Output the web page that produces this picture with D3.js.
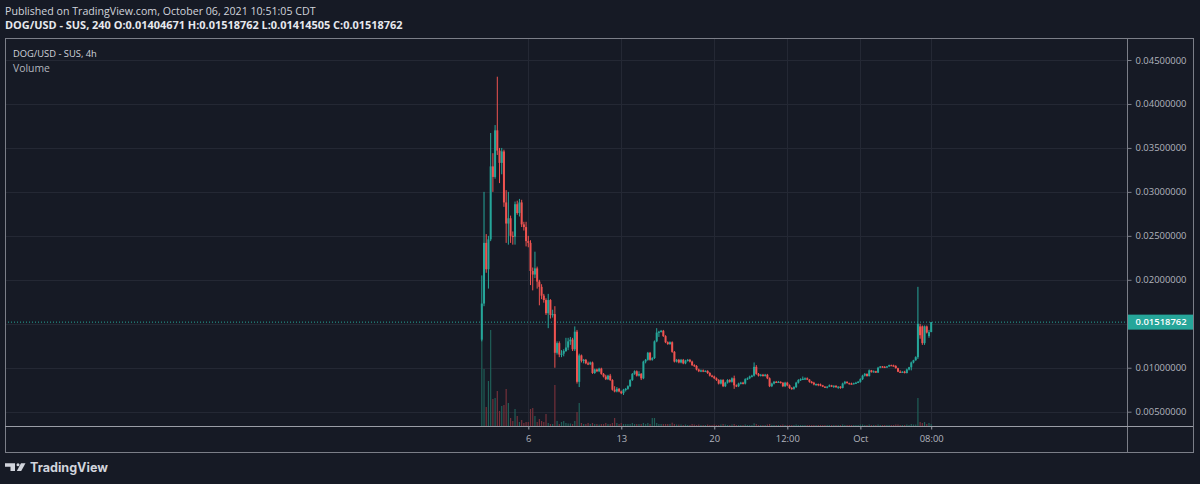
<!DOCTYPE html>
<html><head><meta charset="utf-8">
<script src="https://cdn.jsdelivr.net/npm/d3@7"></script>
<style>
html,body{margin:0;padding:0;background:#161a25;}
svg{display:block;}
</style></head><body>
<svg id="c" width="1200" height="484"></svg>
<script>
// ---------------- DATA (4h candles, DOG/USD - SUS) ----------------
const firstBarTime = "2021-09-02T12:00:00Z";
const barHours = 4;
const opens = [
0.0132,0.0173,0.0242,0.0212,0.0246,0.0329,0.0317,0.0370,0.0347,0.0333,
0.0346,0.0288,0.0264,0.0270,0.0250,0.0249,0.0286,0.0276,0.0288,0.0263,
0.0260,0.0244,0.0242,0.0210,0.0206,0.0213,0.0198,0.0192,0.0182,0.0177,
0.0162,0.0177,0.0160,0.0161,0.0117,0.0128,0.0115,0.0116,0.0119,0.0123,
0.0130,0.0132,0.0121,0.0141,0.0084,0.0114,0.0108,0.0109,0.0105,0.0104,
0.0106,0.0094,0.0098,0.0096,0.0099,0.0093,0.0090,0.0087,0.0091,0.0086,
0.0075,0.0073,0.0076,0.0073,0.0071,0.0075,0.0076,0.0079,0.0086,0.0093,
0.0096,0.0091,0.0093,0.0088,0.0107,0.0109,0.0117,0.0109,0.0111,0.0130,
0.0140,0.0141,0.0142,0.0136,0.0129,0.0127,0.0129,0.0118,0.0107,0.0109,
0.0106,0.0109,0.0105,0.0108,0.0109,0.0107,0.0103,0.0102,0.0098,0.0096,
0.0097,0.0096,0.00965,0.0094,0.0091,0.0090,0.0088,0.0086,0.0082,0.0086,
0.0079,0.0083,0.0086,0.0084,0.0088,0.0080,0.0079,0.0082,0.0083,0.0082,
0.0087,0.0088,0.0090,0.0091,0.0101,0.0093,0.0091,0.0092,0.00905,0.0092,
0.0088,0.0079,0.0082,0.0084,0.00835,0.0084,0.0083,0.0079,0.0083,0.0080,
0.0077,0.0076,0.0078,0.0083,0.0086,0.0087,0.00875,0.0088,0.00865,0.0084,
0.0083,0.0081,0.00815,0.0081,0.0080,0.00785,0.0078,0.00785,0.0080,0.00785,
0.00795,0.0078,0.00785,0.0077,0.0082,0.0084,0.00825,0.0082,0.00815,0.00825,
0.0083,0.0084,0.0087,0.0091,0.0093,0.00905,0.0097,0.0095,0.0096,0.00945,
0.0100,0.01015,0.0101,0.01005,0.01015,0.0103,0.01025,0.0102,0.00995,0.00955,
0.00945,0.00955,0.0094,0.0098,0.01005,0.0106,0.01085,0.0112,0.0147,0.0147,
0.0128,0.0147,0.0136,0.01404671];
const highs = [
0.0205,0.0300,0.0252,0.0250,0.0367,0.0344,0.0376,0.0431,0.0350,0.0350,
0.0348,0.0302,0.0300,0.0273,0.0255,0.0289,0.0290,0.0292,0.0291,0.0266,
0.0266,0.0250,0.0245,0.0214,0.0232,0.0215,0.0200,0.0195,0.0184,0.0179,
0.0184,0.0178,0.0166,0.0170,0.0130,0.0130,0.0120,0.0121,0.0134,0.0134,
0.0135,0.0134,0.0147,0.0143,0.0116,0.0115,0.0110,0.0110,0.0107,0.0107,
0.0107,0.0099,0.0099,0.0100,0.0100,0.0094,0.0092,0.0092,0.0093,0.0087,
0.0079,0.0078,0.0077,0.0074,0.0076,0.0077,0.0080,0.0087,0.0094,0.0097,
0.0097,0.0096,0.0094,0.0108,0.0110,0.0118,0.0118,0.0112,0.0131,0.0145,
0.0142,0.0143,0.0143,0.0137,0.0130,0.0130,0.0130,0.0119,0.0110,0.0110,
0.0110,0.0110,0.0109,0.0110,0.0110,0.0108,0.0104,0.0103,0.0099,0.0098,
0.0098,0.0097,0.0097,0.0095,0.0092,0.0091,0.0089,0.0087,0.0087,0.0087,
0.0084,0.0087,0.0087,0.0089,0.0091,0.0081,0.0083,0.0084,0.0084,0.0088,
0.0089,0.0091,0.0092,0.0106,0.0103,0.0094,0.0093,0.0093,0.0093,0.0093,
0.0089,0.0083,0.0085,0.0085,0.0085,0.00845,0.00835,0.0084,0.0084,0.0081,
0.0078,0.0079,0.0084,0.0087,0.0088,0.0090,0.0089,0.0089,0.0087,0.0085,
0.0084,0.0082,0.0082,0.0082,0.00805,0.0079,0.0079,0.0081,0.00805,0.0080,
0.0080,0.0079,0.0079,0.0083,0.0085,0.00845,0.0083,0.0083,0.0083,0.0084,
0.0085,0.0088,0.0092,0.0094,0.00935,0.0098,0.00975,0.0097,0.00965,0.0101,
0.0102,0.0102,0.0102,0.0102,0.01035,0.01035,0.01035,0.0103,0.0100,0.0097,
0.0096,0.00965,0.0099,0.0101,0.0107,0.0109,0.0113,0.0192,0.0150,0.0148,
0.0148,0.0148,0.0143,0.01518762];
const lows = [
0.0130,0.0170,0.0208,0.0190,0.0244,0.0300,0.0315,0.0342,0.0310,0.0320,
0.0283,0.0242,0.0240,0.0242,0.0240,0.0240,0.0274,0.0272,0.0260,0.0256,
0.0238,0.0237,0.0194,0.0188,0.0202,0.0190,0.0171,0.0178,0.0174,0.0160,
0.0145,0.0156,0.0157,0.0100,0.0115,0.0112,0.0112,0.0113,0.0118,0.0120,
0.0126,0.0119,0.0119,0.0082,0.0078,0.0106,0.0105,0.0104,0.0103,0.0103,
0.0093,0.0093,0.0095,0.0095,0.0092,0.0089,0.0086,0.0086,0.0085,0.0074,
0.0072,0.0072,0.0072,0.0070,0.0069,0.0073,0.0075,0.0078,0.0085,0.0092,
0.0090,0.0090,0.0086,0.0087,0.0105,0.0108,0.0108,0.0108,0.0110,0.0129,
0.0135,0.0140,0.0135,0.0128,0.0126,0.0126,0.0117,0.0106,0.0106,0.0105,
0.0105,0.0104,0.0104,0.0107,0.0106,0.0102,0.0101,0.0097,0.0095,0.0095,
0.0095,0.0095,0.0093,0.0090,0.0089,0.0087,0.0085,0.0081,0.0081,0.0078,
0.0078,0.0082,0.0083,0.0083,0.0076,0.0078,0.0078,0.0081,0.0081,0.0081,
0.0086,0.0087,0.0089,0.0090,0.0092,0.0090,0.0090,0.0090,0.0090,0.0087,
0.0078,0.0078,0.0081,0.0083,0.0083,0.0082,0.0078,0.0078,0.0079,0.0076,
0.0075,0.0075,0.0077,0.0082,0.0085,0.0086,0.0086,0.0086,0.0083,0.0082,
0.0080,0.00795,0.0079,0.0079,0.0078,0.0077,0.00765,0.0078,0.0078,0.0077,
0.0077,0.0076,0.0076,0.00765,0.0081,0.0082,0.0081,0.0081,0.0081,0.0082,
0.00825,0.0083,0.0086,0.0090,0.0090,0.0090,0.00945,0.00945,0.0094,0.0094,
0.00995,0.0100,0.0100,0.0100,0.0101,0.0102,0.01015,0.0099,0.0095,0.0094,
0.0094,0.00935,0.00935,0.0097,0.0097,0.0105,0.0108,0.0110,0.0133,0.0126,
0.0126,0.0139,0.0134,0.01414505];
const closes = [
0.0173,0.0242,0.0212,0.0246,0.0329,0.0317,0.0370,0.0347,0.0333,0.0346,
0.0288,0.0264,0.0270,0.0250,0.0249,0.0286,0.0276,0.0288,0.0263,0.0260,
0.0244,0.0242,0.0210,0.0206,0.0213,0.0198,0.0192,0.0182,0.0177,0.0162,
0.0177,0.0160,0.0161,0.0117,0.0128,0.0115,0.0116,0.0119,0.0123,0.0130,
0.0132,0.0121,0.0141,0.0084,0.0114,0.0108,0.0109,0.0105,0.0104,0.0106,
0.0094,0.0098,0.0096,0.0099,0.0093,0.0090,0.0087,0.0091,0.0086,0.0075,
0.0073,0.0076,0.0073,0.0071,0.0075,0.0076,0.0079,0.0086,0.0093,0.0096,
0.0091,0.0093,0.0088,0.0107,0.0109,0.0117,0.0109,0.0111,0.0130,0.0140,
0.0141,0.0142,0.0136,0.0129,0.0127,0.0129,0.0118,0.0107,0.0109,0.0106,
0.0109,0.0105,0.0108,0.0109,0.0107,0.0103,0.0102,0.0098,0.0096,0.0097,
0.0096,0.00965,0.0094,0.0091,0.0090,0.0088,0.0086,0.0082,0.0086,0.0079,
0.0083,0.0086,0.0084,0.0088,0.0080,0.0079,0.0082,0.0083,0.0082,0.0087,
0.0088,0.0090,0.0091,0.0101,0.0093,0.0091,0.0092,0.00905,0.0092,0.0088,
0.0079,0.0082,0.0084,0.00835,0.0084,0.0083,0.0079,0.0083,0.0080,0.0077,
0.0076,0.0078,0.0083,0.0086,0.0087,0.00875,0.0088,0.00865,0.0084,0.0083,
0.0081,0.00815,0.0081,0.0080,0.00785,0.0078,0.00785,0.0080,0.00785,0.00795,
0.0078,0.00785,0.0077,0.0082,0.0084,0.00825,0.0082,0.00815,0.00825,0.0083,
0.0084,0.0087,0.0091,0.0093,0.00905,0.0097,0.0095,0.0096,0.00945,0.0100,
0.01015,0.0101,0.01005,0.01015,0.0103,0.01025,0.0102,0.00995,0.00955,0.00945,
0.00955,0.0094,0.0098,0.01005,0.0106,0.01085,0.0112,0.0150,0.0137,0.0128,
0.0147,0.0140,0.01405,0.01518762];
const volumes = [
87,57,19,45,96,27,28,35,15,20,
21,37,23,8,5,17,10,4,6,3,
4,4,17,18,10,4,7,5,4,12,
3,2,2,41,5,2,4,5,3,2.5,
2.5,2,5,14,23,3,2,2,3,2,
3,2,2,1.5,2,2,3,2,2,3,
8,3,2,3,2,2,2,2,3,2,
2,2,2,3,2,3,2,8,8,3,
2,2,2,2,2,2,3.3,2,1.5,1.5,
1.5,1,1.5,1,1,2,1.5,1,1.5,1,
1,1,1.5,1,1,1.5,1,1,1.5,2,
1.5,1,1,1.5,2,1,1,1,1,1.5,
1,1,1,2.7,2,1,1,1,1,1.5,
2,1,1,1,1,1,1.5,1,1,1,
1,1,1.5,1,1,1,1,1,1,1,
1,1,1,1,1,1,1,1,1,1,
1,1,1,1.5,1,1,1,1,1,1,
1,1.5,1.5,1,1,1.5,1,1,1,1.5,
1,1,1,1,1,1,1,1.5,1.5,1,
1,1,1.5,1,2,1.5,1.5,28,4,3,
4,2,3,2];
const priceTicks = [0.005,0.010,0.015,0.020,0.025,0.030,0.035,0.040,0.045];
const timeTickDates = ["2021-09-06T00:00:00Z","2021-09-13T00:00:00Z","2021-09-20T00:00:00Z","2021-09-25T12:00:00Z","2021-10-01T00:00:00Z","2021-10-06T08:00:00Z"];
const timeTickLabels = ["6","13","20","12:00","Oct","08:00"];
const lastPrice = 0.01518762;
const headerLine1 = "Published on TradingView.com, October 06, 2021 10:51:05 CDT";
const headerLine2 = "DOG/USD - SUS, 240 O:0.01404671 H:0.01518762 L:0.01414505 C:0.01518762";
const legendTitle = "DOG/USD - SUS, 4h";
const legendVolume = "Volume";

// ---------------- LAYOUT ----------------
const W = 1200, H = 484;
const pane = {left:5, right:1127, top:38, bottom:426};
const frame = {left:5, right:1193, top:38, bottom:452};
const BG = "#161a25", GRID = "#242834", FRAME = "#7b7e88", TXT = "#d1d4dc", AX = "#b2b5be";
const UP = "#26a69a", DOWN = "#ef5350", UPV = "#1f5f58", DOWNV = "#74303a";
const FONT = "'Open Sans', 'Noto Sans', sans-serif";

const svg = d3.select("#c");
svg.append("rect").attr("width", W).attr("height", H).attr("fill", BG);

function fit(sel, width) {
  const n = sel.node();
  let fs = parseFloat(sel.attr("font-size"));
  const len = n.getComputedTextLength();
  if (len > 0) sel.attr("font-size", (fs * width / len).toFixed(2));
  return sel;
}

// scales
const times = opens.map((_, i) => new Date(Date.parse(firstBarTime) + i * barHours * 3600e3));
const tickDates = timeTickDates.map(s => new Date(s));
const xa = 528.3, xb = 931.2;
const ta = +tickDates[0], tb = +tickDates[tickDates.length - 1];
const pxPerMs = (xb - xa) / (tb - ta);
const x = d3.scaleUtc()
  .domain([new Date(ta - (xa - pane.left) / pxPerMs), new Date(ta + (pane.right - xa) / pxPerMs)])
  .range([pane.left, pane.right]);
const y = d3.scaleLinear().domain([0.005, 0.045]).range([411.7, 60]);
const yv = d3.scaleLinear().domain([0, 100]).range([pane.bottom, pane.bottom - 100]);

svg.append("clipPath").attr("id", "paneClip").append("rect")
  .attr("x", pane.left).attr("y", pane.top).attr("width", pane.right - pane.left).attr("height", pane.bottom - pane.top);

// grid
const grid = svg.append("g").attr("clip-path", "url(#paneClip)");
grid.selectAll("line.h").data(priceTicks).join("line")
  .attr("x1", pane.left).attr("x2", pane.right)
  .attr("y1", d => Math.round(y(d)) + 0.5).attr("y2", d => Math.round(y(d)) + 0.5)
  .attr("stroke", GRID).attr("stroke-width", 1);
grid.selectAll("line.v").data(tickDates).join("line")
  .attr("x1", d => Math.round(x(d)) + 0.5).attr("x2", d => Math.round(x(d)) + 0.5)
  .attr("y1", pane.top).attr("y2", pane.bottom)
  .attr("stroke", GRID).attr("stroke-width", 1);

const plot = svg.append("g").attr("clip-path", "url(#paneClip)");
// volume bars
plot.selectAll("rect.vol").data(volumes).join("rect")
  .attr("x", (d, i) => x(times[i]) - 0.6).attr("width", 1.2)
  .attr("y", d => yv(d)).attr("height", d => pane.bottom - yv(d))
  .attr("fill", (d, i) => closes[i] >= opens[i] ? UPV : DOWNV);

// last price dotted line
plot.append("line").attr("x1", pane.left).attr("x2", pane.right)
  .attr("y1", y(lastPrice)).attr("y2", y(lastPrice))
  .attr("stroke", UP).attr("stroke-width", 1).attr("stroke-dasharray", "1,2");

// candles
const idx = d3.range(opens.length);
const col = i => closes[i] >= opens[i] ? UP : DOWN;
plot.selectAll("line.wick").data(idx).join("line")
  .attr("x1", i => x(times[i])).attr("x2", i => x(times[i]))
  .attr("y1", i => y(highs[i])).attr("y2", i => y(lows[i]))
  .attr("stroke", col).attr("stroke-width", 1);
plot.selectAll("rect.body").data(idx).join("rect")
  .attr("x", i => x(times[i]) - 1).attr("width", 2)
  .attr("y", i => y(Math.max(opens[i], closes[i])))
  .attr("height", i => Math.max(1.2, Math.abs(y(opens[i]) - y(closes[i]))))
  .attr("fill", col);

// frame
svg.append("rect").attr("x", frame.left + 0.5).attr("y", frame.top + 0.5)
  .attr("width", frame.right - frame.left).attr("height", frame.bottom - frame.top)
  .attr("fill", "none").attr("stroke", FRAME);
svg.append("line").attr("x1", pane.right + 0.5).attr("x2", pane.right + 0.5)
  .attr("y1", frame.top).attr("y2", frame.bottom).attr("stroke", FRAME);
svg.append("line").attr("x1", frame.left).attr("x2", frame.right)
  .attr("y1", pane.bottom + 0.5).attr("y2", pane.bottom + 0.5).attr("stroke", "#9a9da6");

// price axis
const yAxis = svg.append("g").attr("transform", `translate(${pane.right + 0.5},0)`)
  .call(d3.axisRight(y).tickValues(priceTicks).tickFormat(d3.format(".8f")).tickSize(4).tickPadding(4));
yAxis.select(".domain").remove();
yAxis.selectAll(".tick line").attr("stroke", FRAME);
yAxis.selectAll(".tick text").attr("fill", AX).attr("font-family", FONT).attr("font-size", 11);
const probe = yAxis.select(".tick text");
fit(probe, 51);
const axisFs = parseFloat(probe.attr("font-size"));
yAxis.selectAll(".tick text").attr("font-size", axisFs);

// last price label
const ly = y(lastPrice);
svg.append("rect").attr("x", pane.right + 1).attr("y", ly - 7.5).attr("width", frame.right - pane.right - 1).attr("height", 15)
  .attr("fill", UP);
svg.append("text").attr("x", pane.right + 8.5).attr("y", ly).attr("dy", "0.35em")
  .attr("fill", "#ffffff").attr("font-family", FONT).attr("font-size", axisFs).attr("font-weight", 600)
  .text(d3.format(".8f")(lastPrice));

// time axis
const xAxis = svg.append("g").attr("transform", `translate(0,${pane.bottom + 0.5})`)
  .call(d3.axisBottom(x).tickValues(tickDates).tickFormat((d, i) => timeTickLabels[i]).tickSize(3).tickPadding(6));
xAxis.select(".domain").remove();
xAxis.selectAll(".tick line").attr("stroke", "#9a9da6");
xAxis.selectAll(".tick text").attr("fill", AX).attr("font-family", FONT).attr("font-size", axisFs);

// header
fit(svg.append("text").attr("x", 5).attr("y", 11).attr("dy", "0.35em").attr("fill", TXT)
  .attr("font-family", FONT).attr("font-size", 12).text(headerLine1), 311);
fit(svg.append("text").attr("x", 5).attr("y", 25).attr("dy", "0.35em").attr("fill", "#e6e8ee")
  .attr("font-family", FONT).attr("font-weight", 700).attr("font-size", 12).text(headerLine2), 398);

// legend
fit(svg.append("text").attr("x", 13).attr("y", 53.5).attr("dy", "0.35em").attr("fill", TXT)
  .attr("font-family", FONT).attr("font-size", 12).text(legendTitle), 84);
fit(svg.append("text").attr("x", 13).attr("y", 68).attr("dy", "0.35em").attr("fill", AX)
  .attr("font-family", FONT).attr("font-size", 12).text(legendVolume), 37);

// TradingView logo
const logo = svg.append("g").attr("fill", TXT);
logo.append("path").attr("d", "M5,463.3 H15 V471 H10.5 V466.7 H5 Z");
logo.append("circle").attr("cx", 18).attr("cy", 464.8).attr("r", 1.5);
logo.append("path").attr("d", "M21,463.3 H25.5 L21.2,471 H16.8 Z");
fit(svg.append("text").attr("x", 30).attr("y", 468).attr("dy", "0.35em").attr("fill", TXT)
  .attr("font-family", "Inter, 'Open Sans', sans-serif").attr("font-weight", 700).attr("font-size", 15).text("TradingView"), 78);
</script>
</body></html>
